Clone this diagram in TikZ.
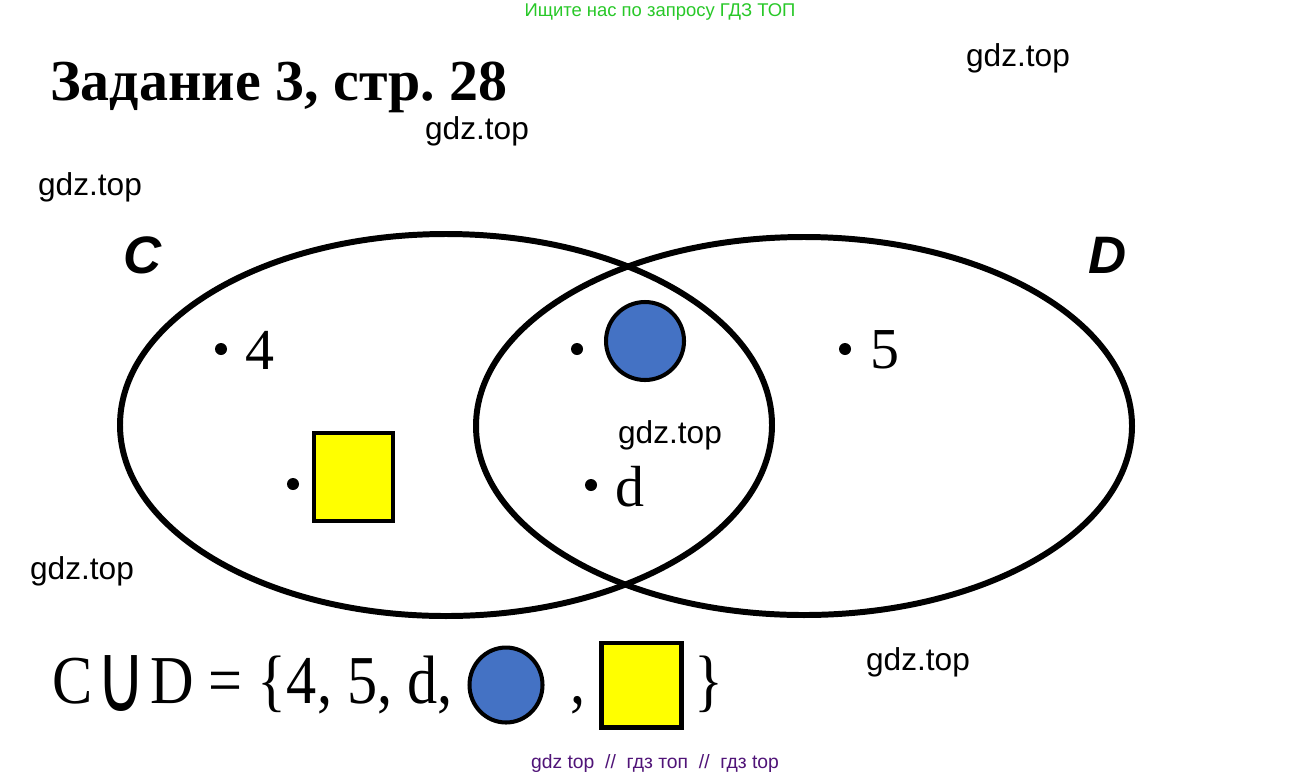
\documentclass[tikz,border=0pt]{standalone}
\usepackage{fontspec}
\setmainfont{Liberation Serif}
\newfontfamily\wmfont{Liberation Sans}
\newfontfamily\narrowserif[FakeStretch=0.88]{Liberation Serif}
\newfontfamily\cupfont{DejaVu Sans}
\usetikzlibrary{shapes.geometric}
\definecolor{discblue}{RGB}{68,114,196}
\definecolor{boxyellow}{RGB}{255,255,0}
\definecolor{hintgreen}{RGB}{40,200,40}
\definecolor{footpurple}{RGB}{80,20,120}
\frenchspacing

\begin{document}
\begin{tikzpicture}[x=0.02cm,y=-0.02cm,
  set line/.style={line width=3.4pt},
  elem dot/.style={circle,fill=black,inner sep=0pt,minimum size=0.24cm},
  elem label/.style={font=\fontsize{33}{35}\selectfont,anchor=west,inner sep=0pt},
  set name/.style={font=\wmfont\itshape\bfseries\fontsize{30}{32}\selectfont},
  watermark/.style={font=\wmfont\fontsize{18}{20}\selectfont},
  union text/.style={font=\narrowserif\fontsize{39}{41}\selectfont,anchor=base west,inner sep=0pt},
  blue disc/.style={circle,draw,line width=2.3pt,fill=discblue,inner sep=0pt,minimum size=1.56cm},
  yellow box/.style={rectangle,draw,line width=2.3pt,fill=boxyellow,inner sep=0pt}]

  \useasboundingbox[fill=white] (0,0) rectangle (1310,778);

  % header and footer
  \node[font=\wmfont\fontsize{10.5}{12}\selectfont,text=hintgreen] (hint) at (660,12) {Ищите нас по запросу ГДЗ ТОП};
  \node[font=\bfseries\fontsize{33}{35}\selectfont,anchor=base west,inner sep=0pt] (title) at (50,100) {Задание 3, стр. 28};
  \node[font=\wmfont\fontsize{11}{13}\selectfont,text=footpurple] (foot) at (655,763) {gdz top \ // \ гдз топ \ // \ гдз top};

  % watermarks
  \node[watermark] (wm1) at (1018,58) {gdz.top};
  \node[watermark] (wm2) at (477,131) {gdz.top};
  \node[watermark] (wm3) at (90,187) {gdz.top};
  \node[watermark] (wm4) at (670,435) {gdz.top};
  \node[watermark] (wm5) at (82,571) {gdz.top};
  \node[watermark] (wm6) at (918,662) {gdz.top};

  % the two sets
  \draw[set line] (446,425) ellipse [x radius=326, y radius=191];
  \draw[set line] (804,426) ellipse [x radius=328, y radius=189];
  \node[set name] (C) at (143,255) {C};
  \node[set name] (D) at (1108,255) {D};

  % elements
  \node[elem dot] (p4) at (221,349) {};
  \node[elem label] (l4) at (245,350) {4};
  \node[elem dot] (p5) at (845,349) {};
  \node[elem label] (l5) at (870,350) {5};
  \node[elem dot] (pd) at (591,485) {};
  \node[elem label] (ld) at (615,487) {d};
  \node[elem dot] (pc) at (577,349) {};
  \node[blue disc] (disc) at (645,341) {};
  \node[elem dot] (ps) at (293,484) {};
  \node[yellow box,minimum width=1.58cm,minimum height=1.76cm] (box) at (353.5,477) {};

  % the union
  \node[union text] (uc) at (52,703) {C};
  \node[inner sep=0pt] (cup) at (121,684) {\scalebox{0.7}[1]{\cupfont\fontsize{55}{55}\selectfont ∪}};
  \node[union text] (rest) at (150,703) {D = \{4, 5, d,};
  \node[ellipse,draw,line width=2.3pt,fill=discblue,inner sep=0pt,minimum width=1.46cm,minimum height=1.5cm] (disc2) at (506,685) {};
  \node[union text,anchor=base] (comma) at (578,703) {,};
  \node[yellow box,minimum width=1.6cm,minimum height=1.7cm] (box2) at (641.5,685) {};
  \node[union text] (close) at (694,703) {\}};
\end{tikzpicture}
\end{document}
